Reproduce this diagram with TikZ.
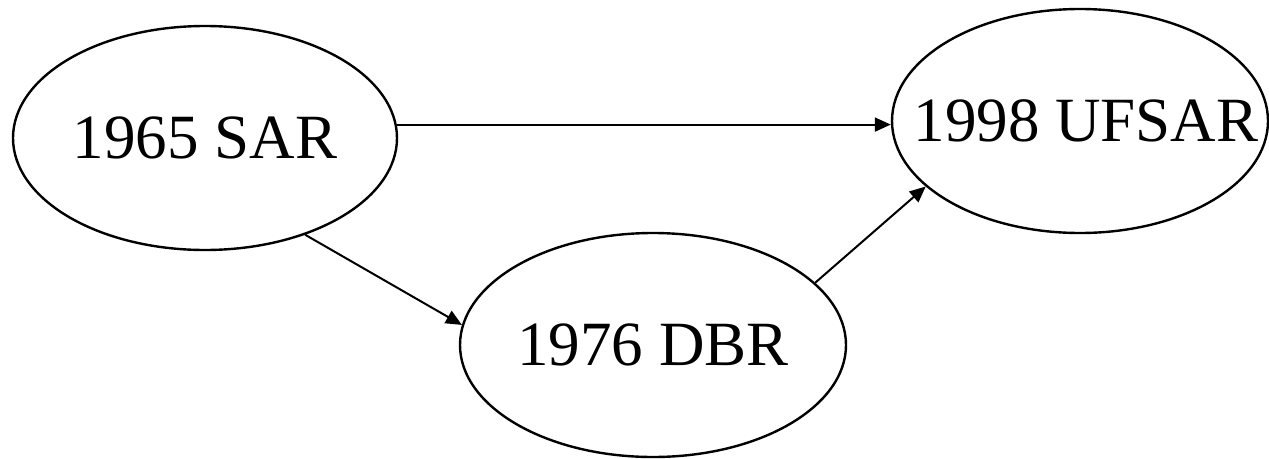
\documentclass[tikz,border=0pt]{standalone}
\usepackage{fontspec}
\setmainfont{Liberation Serif}
\usetikzlibrary{shapes.geometric,arrows.meta}

\begin{document}
\begin{tikzpicture}[x=1pt,y=-1pt,
    yr/.style={ellipse,draw=black,line width=2.4pt,inner sep=0pt,
      minimum width=384pt,minimum height=224pt,
      font=\fontsize{63}{63}\selectfont},
    arr/.style={line width=2pt,-{Triangle[length=16pt,width=14pt]}}]
    \useasboundingbox (0,0) rectangle (1269,458);

    % Place the year nodes
    \node[yr] (sar) at (205,138) {\makebox[0pt]{1965 SAR}};
    \node[yr,minimum width=376pt] (ufsar) at (1080,121) {\makebox[0pt]{\hspace{12pt}1998 UFSAR}};
    \node[yr,minimum width=386pt] (dbr) at (653,345) {\makebox[0pt]{1976 DBR}};

    % The arrows
    \draw[arr] (sar.4.5) -- (sar.4.5 -| ufsar.west);
    \draw[arr] (sar.-44.4) -- (dbr.174.7);
    \draw[arr] (dbr.21.5) -- (ufsar.203);
\end{tikzpicture}
\end{document}
